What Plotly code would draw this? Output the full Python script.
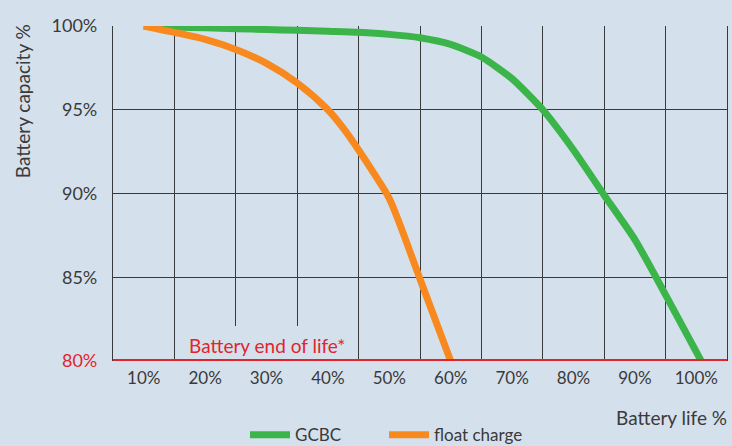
import plotly.graph_objects as go

life = [10, 15, 20, 25, 30, 35, 40, 45, 50, 55, 60, 65, 70, 75, 80, 85, 90, 95, 100.8]
gcbc = [100, 99.94, 99.89, 99.84, 99.79, 99.74, 99.68, 99.62, 99.5, 99.3, 98.9,
        98.15, 96.85, 95.0, 92.6, 89.9, 87.25, 83.95, 80.0]
float_life = [10, 15, 20, 25, 30, 35, 40, 42.5, 45, 47.5, 50, 55, 60]
float_charge = [100, 99.62, 99.2, 98.6, 97.77, 96.6, 95.0, 93.9, 92.6, 91.2, 89.7, 84.9, 80.0]

x_ticks = [10, 20, 30, 40, 50, 60, 70, 80, 90, 100]
x_labels = [f"{v}%" for v in x_ticks]
y_ticks = [80, 85, 90, 95, 100]
y_labels = ['<span style="color:#e3242b">80%</span>', "85%", "90%", "95%", "100%"]
end_of_life = 80

BG = "#d5e0ed"
GRID = "#3a3a3a"
TXT = "#3a3a3a"
GREEN = "#3bb54a"
ORANGE = "#f7891f"
RED = "#e3242b"
FONT = "Lato, 'Open Sans', sans-serif"

fig = go.Figure()
fig.add_trace(go.Scatter(x=life, y=gcbc, mode="lines", name="GCBC",
                         line=dict(color=GREEN, width=7, shape="spline", smoothing=0.6),
                         cliponaxis=False))
fig.add_trace(go.Scatter(x=float_life, y=float_charge, mode="lines", name="float charge",
                         line=dict(color=ORANGE, width=7, shape="spline", smoothing=0.8),
                         cliponaxis=False))

# cover vertical gridlines behind the label
fig.add_shape(type="rect", xref="x", yref="y", x0=20, x1=40, y0=end_of_life, y1=82.09,
              fillcolor=BG, line=dict(width=0), layer="between")
# end of life line
fig.add_shape(type="line", xref="paper", yref="y", x0=0, x1=1, y0=end_of_life, y1=end_of_life,
              line=dict(color=RED, width=4), layer="above")
fig.add_annotation(text="Battery end of life*", xref="x", yref="y", x=17.0, y=80.95,
                   xanchor="left", yanchor="middle", showarrow=False,
                   font=dict(color=RED, size=19, family=FONT))
fig.add_annotation(text="Battery life %", xref="paper", yref="paper", x=1.003, y=-0.17,
                   xanchor="right", yanchor="middle", showarrow=False,
                   font=dict(color=TXT, size=19, family=FONT))
fig.add_annotation(text="Battery capacity %", xref="paper", yref="paper", x=-0.148, y=0.776,
                   xanchor="center", yanchor="middle", textangle=-90, showarrow=False,
                   font=dict(color=TXT, size=19, family=FONT))

fig.update_xaxes(range=[5, 105], tickmode="array", tickvals=x_ticks, ticktext=x_labels,
                 showgrid=False, zeroline=False, showline=False, ticks="",
                 ticklabelstandoff=5, automargin=False,
                 tickfont=dict(size=17, color=TXT, family=FONT),
                 minor=dict(tickmode="linear", tick0=5, dtick=10, showgrid=True,
                            gridcolor=GRID, gridwidth=1.2, ticks=""),
                 mirror=True)
fig.update_yaxes(range=[80, 100], tickmode="array", tickvals=y_ticks, ticktext=y_labels,
                 showgrid=True, gridcolor=GRID, gridwidth=1.2, zeroline=False,
                 showline=True, linecolor=GRID, linewidth=1.2, mirror=True, ticks="",
                 ticklabelstandoff=11, automargin=False,
                 tickfont=dict(size=18, color=TXT, family=FONT))

fig.update_layout(width=732, height=446, paper_bgcolor=BG, plot_bgcolor=BG,
                  margin=dict(l=113, r=5, t=26, b=85, autoexpand=False),
                  font=dict(family=FONT, color=TXT),
                  showlegend=True,
                  legend=dict(orientation="h", x=0.215, y=-0.168, xanchor="left", yanchor="top",
                              font=dict(size=17, color=TXT, family=FONT),
                              bgcolor="rgba(0,0,0,0)", itemwidth=40, entrywidth=84,
                              tracegroupgap=0))

fig.write_html("out.html", config={"displayModeBar": False},
               post_script="document.body.style.margin='0px';document.body.style.overflow='hidden';"
                           "document.body.style.background='" + BG + "';")
